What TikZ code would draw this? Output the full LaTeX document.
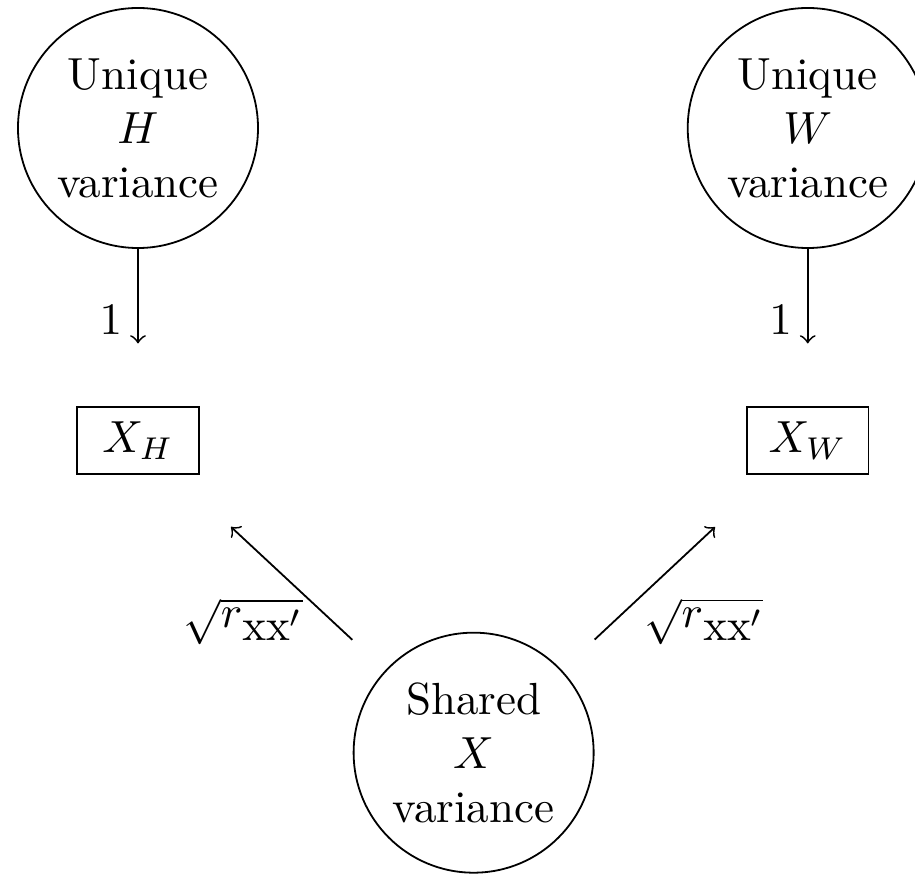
\documentclass[tikz,border=0pt]{standalone}
\begin{document}
\begin{tikzpicture}[
  latent/.style={draw,circle,minimum size=1.875cm,inner sep=0pt,align=center},
  observed/.style={draw,rectangle,minimum width=0.95cm,minimum height=0.52cm,inner sep=0pt}
]
\useasboundingbox (0,0) rectangle (7.148,-6.82);

\node[latent] (uH) at (1.078,-1.0) {Unique\\$H$\\variance};
\node[latent] (uW) at (6.31,-1.0) {Unique\\$W$\\variance};

\node[observed] (xH) at (1.078,-3.44) {$X_H$};
\node[observed] (xW) at (6.31,-3.44) {$X_W$};

\node[latent] (sX) at (3.70,-5.88) {Shared\\$X$\\variance};

\draw[->,shorten >=0.49cm] (uH) -- node[pos=0.45,left] {$1$} (xH);
\draw[->,shorten >=0.49cm] (uW) -- node[pos=0.45,left] {$1$} (xW);

\draw[->,shorten <=0.35cm,shorten >=0.6cm] (sX) -- node[pos=0.25,left=1.1mm] {$\sqrt{\raisebox{3pt}{$r$}\mathrm{xx}'}$} (xH);
\draw[->,shorten <=0.35cm,shorten >=0.6cm] (sX) -- node[pos=0.25,right=1.1mm] {$\sqrt{\raisebox{3pt}{$r$}\mathrm{xx}'}$} (xW);

\end{tikzpicture}
\end{document}
